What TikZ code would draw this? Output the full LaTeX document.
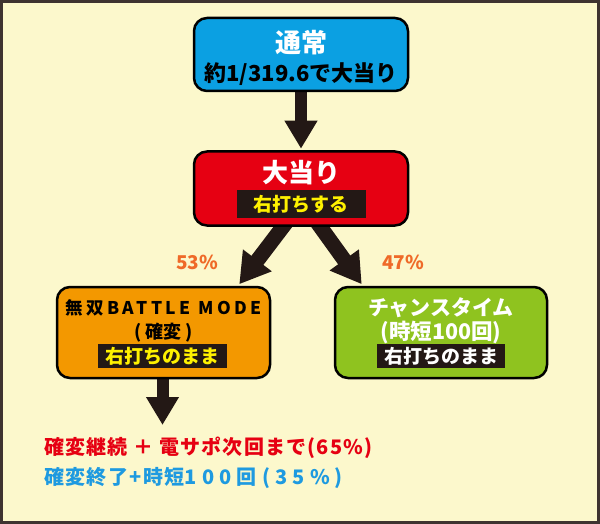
\documentclass[tikz,border=0pt]{standalone}
\usepackage{fontspec}
\setmainfont{Noto Sans CJK JP}
\usetikzlibrary{arrows.meta, calc}
\definecolor{bgcream}{HTML}{FCF8CC}
\definecolor{framebrown}{HTML}{3E3330}
\definecolor{tsujoblue}{HTML}{0BA0E2}
\definecolor{atarired}{HTML}{E60012}
\definecolor{kakuhenorange}{HTML}{F39800}
\definecolor{chancegreen}{HTML}{8FC31F}
\definecolor{arrowbrown}{HTML}{231815}
\definecolor{bandyellow}{HTML}{FFF100}
\definecolor{pctorange}{HTML}{EF6A28}
\definecolor{resultred}{HTML}{E60012}
\definecolor{resultblue}{HTML}{1E9AE0}
\pgfdeclarelayer{bglayer}
\pgfdeclarelayer{arrowlayer}
\pgfsetlayers{bglayer,arrowlayer,main}
\newcommand{\fsz}[1]{\fontsize{#1}{#1}\selectfont}
\newcommand{\lsp}[1]{\addfontfeatures{LetterSpace=#1}}
\tikzset{
	flowbox/.style = {rectangle, rounded corners=13pt, draw=black, line width=2.5pt, inner sep=0pt},
	band/.style = {fill=arrowbrown, inner sep=0pt, minimum width=129pt, minimum height=24pt, font=\bfseries\fsz{19}},
	boxtext/.style = {inner sep=0pt, font=\bfseries\fsz{#1}},
	flowarrow/.style = {draw=arrowbrown, line width=12pt, -{Triangle[width=31pt,length=28pt]}},
	splitarrow/.style = {draw=arrowbrown, line width=15pt, -{Triangle[width=34pt,length=30pt]}},
	pct/.style = {inner sep=0pt, text=pctorange, font=\bfseries\fsz{19}},
	result/.style = {inner sep=0pt, anchor=west, font=\bfseries\fsz{20}}
}
\begin{document}
\begin{tikzpicture}[x=1pt, y=-1pt]
		\useasboundingbox (0,0) rectangle (600,524);
		\begin{pgfonlayer}{bglayer}
			\fill[bgcream] (0,0) rectangle (600,524);
			\draw[framebrown, line width=3pt] (1.5,1.5) rectangle (598.5,522.5);
		\end{pgfonlayer}

		%ボックス
		\node (tsujo) [flowbox, fill=tsujoblue, minimum width=214pt, minimum height=73pt] at (301,54.5) {};
		\node (atari) [flowbox, fill=atarired, minimum width=214pt, minimum height=74pt] at (301,188.5) {};
		\node (kakuhen) [flowbox, fill=kakuhenorange, minimum width=213pt, minimum height=91pt] at (163.5,332.5) {};
		\node (chance) [flowbox, fill=chancegreen, minimum width=212pt, minimum height=91pt] at (441,332.5) {};

		%ボックスの文字
		\node (tsujoT) [boxtext=26, text=white] at ($(tsujo.center)+(0,-11.5)$) {通常};
		\node (tsujoP) [boxtext=22, text=black] at ($(tsujo.center)+(0,19.5)$) {約1/319.6で大当り};
		\node (atariT) [boxtext=26, text=white] at ($(atari.center)+(0,-15.5)$) {大当り};
		\node (atariB) [band, minimum height=28pt, text=bandyellow] at ($(atari.center)+(0,15.5)$) {右打ちする};
		\node (kakuhenT) [boxtext=17.5, text=black] at ($(kakuhen.center)+(0,-24.5)$) {\lsp{20}無双BATTLE MODE};
		\node (kakuhenS) [boxtext=18, text=black] at ($(kakuhen.center)+(0,0)$) {(\hspace{4pt}確変\hspace{4pt})};
		\node (kakuhenB) [band, text=bandyellow] at ($(kakuhen.center)+(-1,23.5)$) {右打ちのまま};
		\node (chanceT) [boxtext=21, text=white] at ($(chance.center)+(0,-24.5)$) {チャンスタイム};
		\node (chanceS) [boxtext=21.5, text=white] at ($(chance.center)+(0,0.5)$) {(時短100回)};
		\node (chanceB) [band, minimum width=128pt, text=white] at ($(chance.center)+(0,23.5)$) {右打ちのまま};

		%確率
		\node (pctL) [pct] at (197,262) {53\%};
		\node (pctR) [pct] at (403,262) {47\%};

		%結果
		\node (resultR) [result, text=resultred] at (44,448) {\lsp{6}確変継続 ＋ 電サポ次回まで(65\%)};
		\node (resultB) [result, text=resultblue] at (44,478) {\lsp{7}確変終了+時短{\lsp{26}100回(35\%)}};
		\coordinate (resultTip) at (162.5,425);

		%矢印
		\begin{pgfonlayer}{arrowlayer}
			\draw [flowarrow] ([yshift=3pt]tsujo.south) -- ([yshift=1.5pt]atari.north);
			\draw [splitarrow] ([xshift=-13.5pt,yshift=6pt]atari.south) -- ([xshift=-32pt,yshift=1.5pt]kakuhen.north east);
			\draw [splitarrow] ([xshift=15pt,yshift=6pt]atari.south) -- ([xshift=28pt,yshift=1.5pt]chance.north west);
			\draw [flowarrow] ([xshift=-1pt,yshift=3pt]kakuhen.south) -- (resultTip);
		\end{pgfonlayer}
\end{tikzpicture}
\end{document}
